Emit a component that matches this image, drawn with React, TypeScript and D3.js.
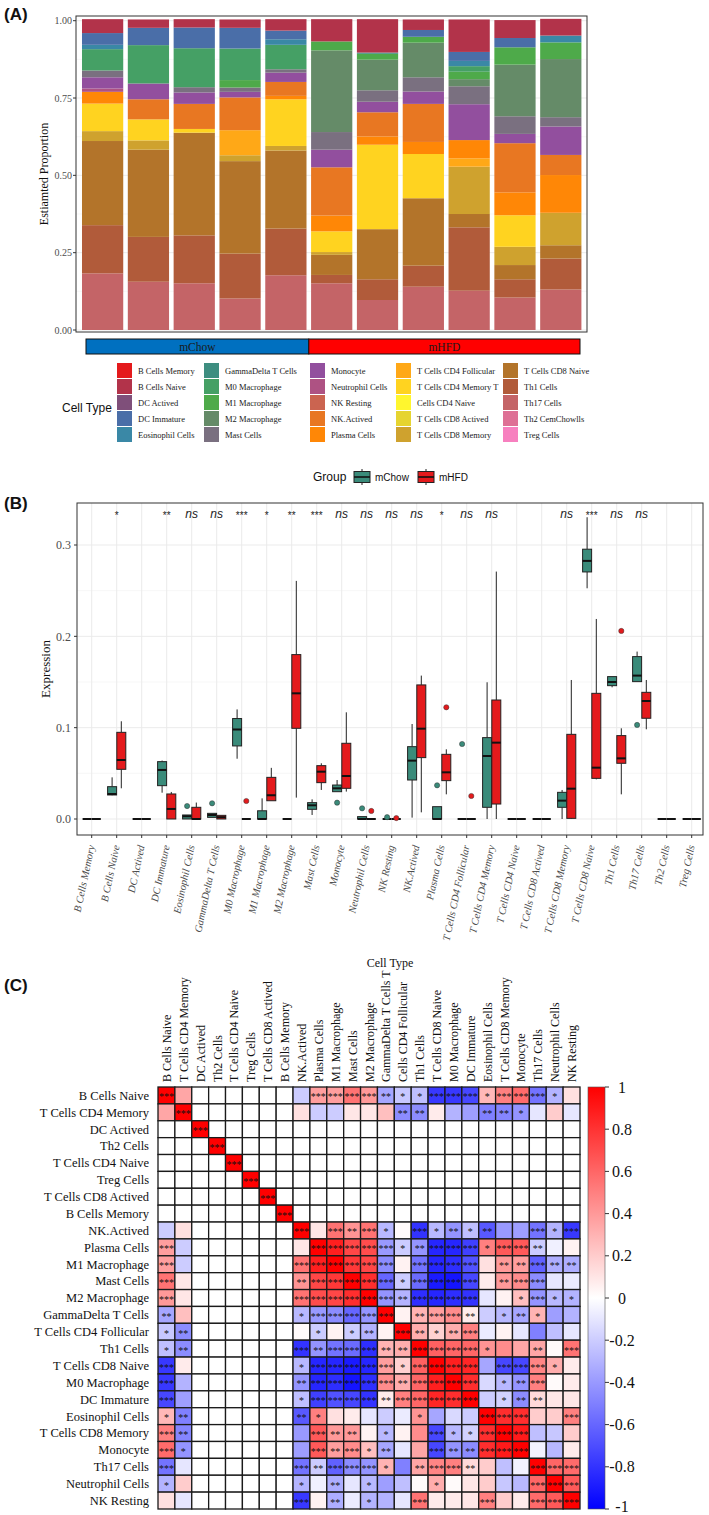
import React, { useEffect, useRef } from 'react';
import * as d3 from 'd3';

const SERIF = '"Liberation Serif", "Times New Roman", serif';
const SANS = '"Liberation Sans", Arial, sans-serif';

// ---------------- Panel A data ----------------
const sampleIds = ['S1', 'S2', 'S3', 'S4', 'S5', 'S6', 'S7', 'S8', 'S9', 'S10', 'S11'];
const groupNames = ['mChow', 'mHFD'];
const groupSampleCounts = [5, 6];
const groupBarColors = ['#0070C0', '#FF0000'];

const cellTypesA = [
  'B Cells Memory', 'B Cells Naive', 'DC Actived', 'DC Immature', 'Eosinophil Cells',
  'GammaDelta T Cells', 'M0 Macrophage', 'M1 Macrophage', 'M2 Macrophage', 'Mast Cells',
  'Monocyte', 'Neutrophil Cells', 'NK Resting', 'NK.Actived', 'Plasma Cells',
  'T Cells CD4 Follicular', 'T Cells CD4 Memory T', 'Cells CD4 Naive', 'T Cells CD8 Actived', 'T Cells CD8 Memory',
  'T Cells CD8 Naive', 'Th1 Cells', 'Th17 Cells', 'Th2 CemChowlls', 'Treg Cells',
];
const cellColorsA = [
  '#E41A1C', '#B2334A', '#7F4F7A', '#4A6EA8', '#3A88A6',
  '#3E8E80', '#45A065', '#4EAA4A', '#658B68', '#7A7080',
  '#924F9E', '#AE5283', '#CB6450', '#E87722', '#FF8706',
  '#FFA817', '#FFD320', '#FFF62E', '#E6D430', '#CFA22E',
  '#B3742A', '#B15B3A', '#C46467', '#DE7095', '#F780BF',
];

const bCellsMemory = [0, 0, 0, 0, 0, 0, 0, 0, 0, 0, 0];
const bCellsNaive = [0.045, 0.027, 0.027, 0.027, 0.037, 0.072, 0.108, 0.034, 0.105, 0.058, 0.054];
const dcActived = [0, 0, 0, 0, 0, 0, 0, 0, 0, 0, 0];
const dcImmature = [0.038, 0.056, 0.067, 0.067, 0.028, 0, 0, 0.022, 0.029, 0.03, 0];
const eosinophilCells = [0.014, 0, 0, 0, 0.018, 0, 0, 0, 0.017, 0, 0.022];
const gammaDeltaT = [0, 0, 0, 0, 0, 0, 0.004, 0, 0, 0, 0];
const m0Macrophage = [0.069, 0.124, 0.126, 0.102, 0.079, 0, 0, 0, 0.018, 0, 0];
const m1Macrophage = [0, 0, 0, 0.024, 0, 0.029, 0.019, 0.019, 0.024, 0.056, 0.054];
const m2Macrophage = [0, 0, 0, 0, 0, 0.264, 0.099, 0.112, 0.023, 0.167, 0.188];
const mastCells = [0.022, 0, 0.017, 0.014, 0.011, 0.057, 0.037, 0.046, 0.058, 0.057, 0.03];
const monocyte = [0.036, 0.051, 0.037, 0.018, 0.03, 0.057, 0.034, 0.04, 0.116, 0.03, 0.092];
const neutrophilCells = [0.011, 0, 0, 0, 0, 0, 0, 0, 0, 0, 0];
const nkResting = [0, 0, 0, 0, 0, 0, 0, 0, 0, 0, 0];
const nkActived = [0, 0.065, 0.081, 0.106, 0.045, 0.156, 0.078, 0.123, 0, 0.159, 0.065];
const plasmaCells = [0.038, 0, 0, 0, 0.011, 0.051, 0.027, 0.039, 0.059, 0.074, 0.122];
const cd4Follicular = [0, 0, 0, 0.081, 0, 0, 0, 0, 0.027, 0, 0];
const cd4MemoryT = [0.089, 0.068, 0.012, 0, 0.151, 0.067, 0.273, 0.143, 0, 0.102, 0];
const cd4Naive = [0, 0, 0, 0, 0, 0, 0, 0, 0, 0, 0];
const cd8Actived = [0, 0, 0, 0, 0, 0, 0, 0, 0, 0, 0];
const cd8Memory = [0.032, 0.03, 0, 0.019, 0.015, 0.009, 0, 0, 0.153, 0.059, 0.105];
const cd8Naive = [0.272, 0.282, 0.332, 0.299, 0.252, 0.065, 0.162, 0.218, 0.043, 0.046, 0.043];
const th1Cells = [0.156, 0.145, 0.155, 0.145, 0.151, 0.027, 0.067, 0.068, 0.205, 0.059, 0.1];
const th17Cells = [0.183, 0.156, 0.151, 0.102, 0.177, 0.151, 0.097, 0.14, 0.127, 0.105, 0.131];
const th2Cells = [0, 0, 0, 0, 0, 0, 0, 0, 0, 0, 0];
const tregCells = [0, 0, 0, 0, 0, 0, 0, 0, 0, 0, 0];

const seriesA = [
  bCellsMemory, bCellsNaive, dcActived, dcImmature, eosinophilCells,
  gammaDeltaT, m0Macrophage, m1Macrophage, m2Macrophage, mastCells,
  monocyte, neutrophilCells, nkResting, nkActived, plasmaCells,
  cd4Follicular, cd4MemoryT, cd4Naive, cd8Actived, cd8Memory,
  cd8Naive, th1Cells, th17Cells, th2Cells, tregCells,
];
const yTicksA = [0, 0.25, 0.5, 0.75, 1];
const yTickLabelsA = ['0.00', '0.25', '0.50', '0.75', '1.00'];

// ---------------- Panel B data ----------------
const cellTypesB = [
  'B Cells Memory', 'B Cells Naive', 'DC Actived', 'DC Immature', 'Eosinophil Cells',
  'GammaDelta T Cells', 'M0 Macrophage', 'M1 Macrophage', 'M2 Macrophage', 'Mast Cells',
  'Monocyte', 'Neutrophil Cells', 'NK Resting', 'NK.Actived', 'Plasma Cells',
  'T Cells CD4 Follicular', 'T Cells CD4 Memory', 'T Cells CD4 Naive', 'T Cells CD8 Actived', 'T Cells CD8 Memory',
  'T Cells CD8 Naive', 'Th1 Cells', 'Th17 Cells', 'Th2 Cells', 'Treg Cells',
];
const sigLabels = [
  '', '*', '', '**', 'ns', 'ns', '***', '*', '**', '***',
  'ns', 'ns', 'ns', 'ns', '*', 'ns', 'ns', '', '', 'ns',
  '***', 'ns', 'ns', '', '',
];
// [lower whisker, q1, median, q3, upper whisker]
const chowStats = [
  [0, 0, 0, 0, 0], [0.026, 0.0263, 0.0274, 0.0354, 0.0456], [0, 0, 0, 0, 0], [0.0288, 0.0365, 0.0537, 0.0628, 0.064],
  [0, 0, 0.003, 0.0044, 0.0044], [0.0018, 0.0018, 0.0044, 0.0062, 0.0062], [0.066, 0.08, 0.098, 0.11, 0.12],
  [0, 0, 0, 0.009, 0.0226], [0, 0, 0, 0, 0], [0.0044, 0.0106, 0.015, 0.0179, 0.0215],
  [0.0299, 0.0299, 0.0336, 0.0372, 0.0427], [0, 0, 0, 0.0026, 0.0026], [0, 0, 0, 0, 0],
  [0.0015, 0.0427, 0.0639, 0.0792, 0.104], [0, 0, 0, 0.0135, 0.0135], [0, 0, 0, 0, 0],
  [0, 0.0128, 0.069, 0.0891, 0.1497], [0, 0, 0, 0, 0], [0, 0, 0, 0, 0],
  [0, 0.0128, 0.0201, 0.0292, 0.0318], [0.2526, 0.2705, 0.2826, 0.2954, 0.3304],
  [0.1442, 0.146, 0.15, 0.1559, 0.1559], [0.1504, 0.1504, 0.157, 0.1778, 0.1833],
  [0, 0, 0, 0, 0], [0, 0, 0, 0, 0],
];
const hfdStats = [
  [0, 0, 0, 0, 0], [0.0336, 0.0544, 0.0646, 0.0949, 0.107], [0, 0, 0, 0, 0], [0, 0, 0.011, 0.0274, 0.0296],
  [0, 0, 0, 0.0128, 0.018], [0, 0, 0.002, 0.004, 0.004], [0, 0, 0, 0, 0],
  [0.02, 0.02, 0.026, 0.0456, 0.056], [0.0234, 0.0993, 0.1376, 0.18, 0.2607], [0.0318, 0.0398, 0.0518, 0.0584, 0.061],
  [0.03, 0.0336, 0.0471, 0.0829, 0.1168], [0, 0, 0, 0, 0], [0, 0, 0, 0, 0],
  [0.0073, 0.0672, 0.0989, 0.1468, 0.157], [0.027, 0.042, 0.0511, 0.0708, 0.0763], [0, 0, 0, 0, 0],
  [0, 0.0164, 0.0836, 0.1303, 0.2709], [0, 0, 0, 0, 0], [0, 0, 0, 0, 0],
  [0, 0.0007, 0.0332, 0.0927, 0.1522], [0.0434, 0.0445, 0.0562, 0.1376, 0.219],
  [0.027, 0.061, 0.0664, 0.0913, 0.0993], [0.0982, 0.1103, 0.1292, 0.1387, 0.1522],
  [0, 0, 0, 0, 0], [0, 0, 0, 0, 0],
];
const chowOutliers = [[4, 0.0142], [5, 0.0172], [10, 0.0179], [11, 0.0117], [12, 0.002], [14, 0.0369], [15, 0.0821], [22, 0.103]];
const hfdOutliers = [[6, 0.0197], [11, 0.0088], [12, 0.001], [14, 0.1223], [15, 0.0252], [21, 0.2059]];
const groupColorsB = ['#3A8B7A', '#E41A1C'];
const yTicksB = [0, 0.1, 0.2, 0.3];
const yMinorB = [0.05, 0.15, 0.25];

// ---------------- Panel C data ----------------
const corrRowLabels = [
  'B Cells Naive', 'T Cells CD4 Memory', 'DC Actived', 'Th2 Cells', 'T Cells CD4 Naive', 'Treg Cells',
  'T Cells CD8 Actived', 'B Cells Memory', 'NK.Actived', 'Plasma Cells', 'M1 Macrophage', 'Mast Cells',
  'M2 Macrophage', 'GammaDelta T Cells', 'T Cells CD4 Follicular', 'Th1 Cells', 'T Cells CD8 Naive',
  'M0 Macrophage', 'DC Immature', 'Eosinophil Cells', 'T Cells CD8 Memory', 'Monocyte', 'Th17 Cells',
  'Neutrophil Cells', 'NK Resting',
];
const corrColLabels = [
  'B Cells Naive', 'T Cells CD4 Memory', 'DC Actived', 'Th2 Cells', 'T Cells CD4 Naive', 'Treg Cells',
  'T Cells CD8 Actived', 'B Cells Memory', 'NK.Actived', 'Plasma Cells', 'M1  Macrophage', 'Mast Cells',
  'M2 Macrophage', 'GammaDelta T Cells T', 'Cells CD4 Follicular', 'Th1 Cells', 'T Cells CD8 Naive',
  'M0 Macrophage', 'DC Immature', 'Eosinophil Cells', 'T Cells CD8 Memory', 'Monocyte', 'Th17 Cells',
  'Neutrophil Cells', 'NK Resting',
];
// upper-triangle pairs [row, col, r, significance]; matrix is symmetric, diagonal = 1 ***
const corrPairs: [number, number, number, string][] = [
  [0, 1, 0.35, ''], [0, 8, -0.2, ''], [0, 9, 0.38, '***'], [0, 10, 0.38, '***'], [0, 11, 0.55, '***'], [0, 12, 0.4, '***'],
  [0, 13, -0.35, '**'], [0, 14, -0.22, '*'], [0, 15, -0.25, '*'], [0, 16, -0.78, '***'], [0, 17, -0.78, '***'],
  [0, 18, -0.72, '***'], [0, 19, 0.28, '*'], [0, 20, 0.5, '***'], [0, 21, 0.58, '***'], [0, 22, -0.55, '***'],
  [0, 23, -0.3, '*'], [0, 24, 0.12, ''],
  [1, 8, 0.12, ''], [1, 9, -0.2, ''], [1, 10, -0.2, ''], [1, 11, 0.1, ''], [1, 12, 0.1, ''], [1, 13, 0.25, ''],
  [1, 14, -0.45, '**'], [1, 15, -0.45, '**'], [1, 16, 0.08, ''], [1, 17, -0.3, ''], [1, 18, -0.38, ''],
  [1, 19, -0.5, '**'], [1, 20, -0.48, '**'], [1, 21, -0.42, '*'], [1, 22, -0.1, ''], [1, 23, 0.2, ''], [1, 24, -0.1, ''],
  [8, 9, 0.1, ''], [8, 10, 0.55, '***'], [8, 11, 0.42, '**'], [8, 12, 0.55, '***'], [8, 13, -0.28, '*'], [8, 14, 0.02, ''],
  [8, 15, -0.8, '***'], [8, 16, -0.28, '*'], [8, 17, -0.42, '**'], [8, 18, -0.25, '*'], [8, 19, -0.65, '**'],
  [8, 20, -0.4, ''], [8, 21, -0.38, ''], [8, 22, -0.55, '***'], [8, 23, -0.3, '*'], [8, 24, -0.78, '***'],
  [9, 10, 0.88, '***'], [9, 11, 0.72, '***'], [9, 12, 0.7, '***'], [9, 13, -0.4, '***'], [9, 14, -0.2, '*'],
  [9, 15, -0.42, '**'], [9, 16, -0.85, '***'], [9, 17, -0.85, '***'], [9, 18, -0.75, '***'], [9, 19, 0.5, '*'],
  [9, 20, 0.65, '***'], [9, 21, 0.65, '***'], [9, 22, -0.2, '**'], [9, 23, -0.06, ''], [9, 24, 0.05, ''],
  [10, 11, 0.78, '***'], [10, 12, 0.72, '***'], [10, 13, -0.45, '***'], [10, 14, 0.05, ''], [10, 15, -0.55, '***'],
  [10, 16, -0.85, '***'], [10, 17, -0.82, '***'], [10, 18, -0.68, '***'], [10, 19, 0.12, ''], [10, 20, 0.4, '**'],
  [10, 21, 0.38, '**'], [10, 22, -0.62, '***'], [10, 23, -0.32, '**'], [10, 24, -0.32, '**'],
  [11, 12, 0.82, '***'], [11, 13, -0.6, '***'], [11, 14, -0.2, '*'], [11, 15, -0.58, '***'], [11, 16, -0.9, '***'],
  [11, 17, -0.92, '***'], [11, 18, -0.72, '***'], [11, 19, 0.08, ''], [11, 20, 0.4, '**'], [11, 21, 0.45, '***'],
  [11, 22, -0.45, '***'], [11, 23, -0.1, ''], [11, 24, -0.08, ''],
  [12, 13, -0.42, '***'], [12, 14, -0.3, '**'], [12, 15, -0.82, '***'], [12, 16, -0.85, '***'], [12, 17, -0.82, '***'],
  [12, 18, -0.8, '***'], [12, 19, -0.1, ''], [12, 20, 0.05, ''], [12, 21, 0.25, '*'], [12, 22, -0.42, '***'],
  [12, 23, -0.28, '*'], [12, 24, -0.3, '*'],
  [13, 14, 0.05, ''], [13, 15, 0.3, '**'], [13, 16, 0.38, '***'], [13, 17, 0.45, '***'], [13, 18, 0.08, '**'],
  [13, 19, -0.2, ''], [13, 20, -0.28, '*'], [13, 21, -0.35, '**'], [13, 22, 0.3, '*'], [13, 23, -0.38, ''], [13, 24, -0.3, ''],
  [14, 15, 0.32, '**'], [14, 16, 0.18, '*'], [14, 17, 0.32, '**'], [14, 18, 0.5, '***'], [14, 19, -0.08, ''],
  [14, 20, 0.05, ''], [14, 21, -0.1, ''], [14, 22, -0.5, ''], [14, 23, -0.25, ''], [14, 24, -0.1, ''],
  [15, 16, 0.62, '***'], [15, 17, 0.6, '***'], [15, 18, 0.6, '***'], [15, 19, 0.42, '*'], [15, 20, 0.45, ''],
  [15, 21, 0.35, ''], [15, 22, 0.35, '**'], [15, 23, 0.02, ''], [15, 24, 0.55, '***'],
  [16, 17, 0.88, '***'], [16, 18, 0.85, '***'], [16, 19, -0.35, ''], [16, 20, -0.72, '***'], [16, 21, -0.72, '***'],
  [16, 22, 0.48, '***'], [16, 23, 0.32, '*'], [16, 24, 0.08, ''],
  [17, 18, 0.82, '***'], [17, 19, -0.15, ''], [17, 20, -0.28, '*'], [17, 21, -0.42, '**'], [17, 22, 0.5, '***'],
  [17, 23, 0.02, ''], [17, 24, 0.08, ''],
  [18, 19, -0.2, ''], [18, 20, -0.18, '*'], [18, 21, -0.45, '**'], [18, 22, 0.15, '**'], [18, 23, 0.1, ''], [18, 24, 0.1, ''],
  [19, 20, 0.82, '***'], [19, 21, 0.82, '***'], [19, 22, 0.2, ''], [19, 23, 0.2, ''], [19, 24, 0.5, '***'],
  [20, 21, 0.9, '***'], [20, 22, -0.25, ''], [20, 23, -0.22, ''], [20, 24, 0.2, ''],
  [21, 22, -0.05, ''], [21, 23, -0.28, ''], [21, 24, 0.08, ''],
  [22, 23, 0.6, '***'], [22, 24, 0.58, '***'],
  [23, 24, 0.65, '***'],
];
const colorbarTicks = [1, 0.8, 0.6, 0.4, 0.2, 0, -0.2, -0.4, -0.6, -0.8, -1];

type Sel = d3.Selection<SVGSVGElement, unknown, null, undefined>;

function panelLabel(svg: Sel, text: string, y: number) {
  svg.append('text').attr('x', 4).attr('y', y).attr('font-family', SANS).attr('font-weight', 'bold')
    .attr('font-size', 17).attr('fill', '#111').text(text);
}

function drawA(svg: Sel) {
  panelLabel(svg, '(A)', 20);
  const g = svg.append('g');
  const fx0 = 76, fx1 = 587, fy0 = 16, fy1 = 332;
  const x = d3.scaleBand<string>().domain(sampleIds).range([79.7, 583.7]).paddingInner(0.1).paddingOuter(0.05);
  const y = d3.scaleLinear().domain([0, 1]).range([330, 20.7]);

  // grid
  const minor = [0.125, 0.375, 0.625, 0.875];
  minor.forEach((v) => g.append('line').attr('x1', fx0).attr('x2', fx1).attr('y1', y(v)).attr('y2', y(v)).attr('stroke', '#f2f2f2').attr('stroke-width', 0.6));
  yTicksA.forEach((v) => g.append('line').attr('x1', fx0).attr('x2', fx1).attr('y1', y(v)).attr('y2', y(v)).attr('stroke', '#ebebeb').attr('stroke-width', 1));

  const table = sampleIds.map((s, i) => {
    const row: Record<string, number | string> = { sample: s };
    cellTypesA.forEach((c, k) => { row[c] = seriesA[k][i]; });
    return row;
  });
  const keys = [...cellTypesA].reverse();
  const stacked = d3.stack<any>().keys(keys)(table as any);
  const color = d3.scaleOrdinal<string, string>().domain(cellTypesA).range(cellColorsA);
  stacked.forEach((layer) => {
    g.append('g').attr('fill', color(layer.key)).selectAll('rect').data(layer).join('rect')
      .attr('x', (d: any) => x(d.data.sample) as number)
      .attr('width', x.bandwidth())
      .attr('y', (d: any) => y(d[1]))
      .attr('height', (d: any) => Math.max(0, y(d[0]) - y(d[1])));
  });

  g.append('rect').attr('x', fx0).attr('y', fy0).attr('width', fx1 - fx0).attr('height', fy1 - fy0)
    .attr('fill', 'none').attr('stroke', '#333').attr('stroke-width', 1);

  yTicksA.forEach((v, i) => {
    g.append('line').attr('x1', fx0 - 3).attr('x2', fx0).attr('y1', y(v)).attr('y2', y(v)).attr('stroke', '#333');
    g.append('text').attr('x', fx0 - 4).attr('y', y(v)).attr('dy', '0.35em').attr('text-anchor', 'end')
      .attr('font-family', SERIF).attr('font-size', 10).attr('fill', '#4d4d4d').text(yTickLabelsA[i]);
  });
  g.append('text').attr('transform', `translate(48,${(fy0 + fy1) / 2}) rotate(-90)`).attr('text-anchor', 'middle')
    .attr('font-family', SERIF).attr('font-size', 12).attr('fill', '#111').text('Estiamted Proportion');

  // group bar
  const split = ((x(sampleIds[groupSampleCounts[0] - 1]) as number) + x.bandwidth() + (x(sampleIds[groupSampleCounts[0]]) as number)) / 2;
  const segs = [[86, split], [split, 580]];
  segs.forEach(([a, b], i) => {
    g.append('rect').attr('x', a).attr('y', 339).attr('width', b - a).attr('height', 15)
      .attr('fill', groupBarColors[i]).attr('stroke', '#111').attr('stroke-width', 1);
    g.append('text').attr('x', (a + b) / 2).attr('y', 350.5).attr('text-anchor', 'middle')
      .attr('font-family', SERIF).attr('font-size', 11.5).attr('fill', '#1a1a1a').text(groupNames[i]);
  });

  // legend
  g.append('text').attr('x', 62).attr('y', 412).attr('font-family', SANS).attr('font-size', 12).attr('fill', '#111').text('Cell Type');
  const colX = [117, 204, 310, 396, 503];
  cellTypesA.forEach((c, k) => {
    const col = Math.floor(k / 5), row = k % 5;
    const kx = colX[col], ky = 363 + row * 16;
    g.append('rect').attr('x', kx).attr('y', ky).attr('width', 15).attr('height', 15).attr('fill', color(c));
    g.append('text').attr('x', kx + 21).attr('y', ky + 8).attr('dy', '0.35em').attr('font-family', SERIF)
      .attr('font-size', 8.5).attr('fill', '#1a1a1a').text(c);
  });
}

function drawB(svg: Sel) {
  panelLabel(svg, '(B)', 509);
  const g = svg.append('g');
  const fx0 = 77, fx1 = 703, fy0 = 503, fy1 = 835;
  const x = d3.scaleLinear().domain([0, cellTypesB.length - 1]).range([91.7, 691.7]);
  const y = d3.scaleLinear().domain([0, 0.3]).range([819, 545]);

  // group legend
  const lg = g.append('g');
  lg.append('text').attr('x', 313).attr('y', 481).attr('font-family', SANS).attr('font-size', 12).attr('fill', '#111').text('Group');
  const keyX = [354, 418];
  groupNames.forEach((n, i) => {
    const kx = keyX[i];
    lg.append('line').attr('x1', kx + 8).attr('x2', kx + 8).attr('y1', 469).attr('y2', 485).attr('stroke', '#222');
    lg.append('rect').attr('x', kx).attr('y', 471.5).attr('width', 16).attr('height', 11).attr('fill', groupColorsB[i]).attr('stroke', '#222');
    lg.append('line').attr('x1', kx).attr('x2', kx + 16).attr('y1', 477).attr('y2', 477).attr('stroke', '#111').attr('stroke-width', 1.6);
    lg.append('text').attr('x', kx + 21).attr('y', 481).attr('font-family', SANS).attr('font-size', 10).attr('fill', '#111').text(n);
  });

  // grid
  yMinorB.forEach((v) => g.append('line').attr('x1', fx0).attr('x2', fx1).attr('y1', y(v)).attr('y2', y(v)).attr('stroke', '#f2f2f2').attr('stroke-width', 0.6));
  yTicksB.forEach((v) => g.append('line').attr('x1', fx0).attr('x2', fx1).attr('y1', y(v)).attr('y2', y(v)).attr('stroke', '#ebebeb').attr('stroke-width', 1));
  cellTypesB.forEach((_, i) => g.append('line').attr('x1', x(i)).attr('x2', x(i)).attr('y1', fy0).attr('y2', fy1).attr('stroke', '#ebebeb').attr('stroke-width', 1));

  const bw = 9, off = 4.6;
  const drawBoxes = (stats: number[][], outl: number[][], dx: number, fill: string) => {
    stats.forEach((s, i) => {
      const cx = x(i) + dx;
      const [lo, q1, med, q3, hi] = s;
      if (hi > q3) g.append('line').attr('x1', cx).attr('x2', cx).attr('y1', y(hi)).attr('y2', y(q3)).attr('stroke', '#222').attr('stroke-width', 1);
      if (lo < q1) g.append('line').attr('x1', cx).attr('x2', cx).attr('y1', y(q1)).attr('y2', y(lo)).attr('stroke', '#222').attr('stroke-width', 1);
      g.append('rect').attr('x', cx - bw / 2).attr('y', y(q3)).attr('width', bw).attr('height', Math.max(0, y(q1) - y(q3)))
        .attr('fill', fill).attr('stroke', '#222').attr('stroke-width', 1);
      g.append('line').attr('x1', cx - bw / 2).attr('x2', cx + bw / 2).attr('y1', y(med)).attr('y2', y(med)).attr('stroke', '#111').attr('stroke-width', 2);
    });
    outl.forEach(([i, v]) => {
      g.append('circle').attr('cx', x(i) + dx).attr('cy', y(v)).attr('r', 2.6).attr('fill', fill).attr('stroke', '#333').attr('stroke-width', 0.5);
    });
  };
  drawBoxes(chowStats, chowOutliers, -off, groupColorsB[0]);
  drawBoxes(hfdStats, hfdOutliers, off, groupColorsB[1]);

  // significance
  sigLabels.forEach((s, i) => {
    if (!s) return;
    const isNs = s === 'ns';
    g.append('text').attr('x', x(i)).attr('y', isNs ? 518 : 519).attr('text-anchor', 'middle')
      .attr('font-family', SANS).attr('font-style', isNs ? 'italic' : 'normal')
      .attr('font-size', isNs ? 12 : 10).attr('fill', '#222').text(s);
  });

  g.append('rect').attr('x', fx0).attr('y', fy0).attr('width', fx1 - fx0).attr('height', fy1 - fy0)
    .attr('fill', 'none').attr('stroke', '#333').attr('stroke-width', 1);

  yTicksB.forEach((v) => {
    g.append('line').attr('x1', fx0 - 3).attr('x2', fx0).attr('y1', y(v)).attr('y2', y(v)).attr('stroke', '#333');
    g.append('text').attr('x', fx0 - 6).attr('y', y(v)).attr('dy', '0.35em').attr('text-anchor', 'end')
      .attr('font-family', SERIF).attr('font-size', 12).attr('fill', '#4d4d4d').text(d3.format('.1f')(v));
  });
  g.append('text').attr('transform', `translate(50,${(fy0 + fy1) / 2}) rotate(-90)`).attr('text-anchor', 'middle')
    .attr('font-family', SERIF).attr('font-size', 13).attr('fill', '#111').text('Expression');

  cellTypesB.forEach((c, i) => {
    g.append('line').attr('x1', x(i)).attr('x2', x(i)).attr('y1', fy1).attr('y2', fy1 + 3).attr('stroke', '#333');
    g.append('text').attr('transform', `translate(${x(i) + 3},${fy1 + 11}) rotate(-78)`).attr('text-anchor', 'end')
      .attr('font-family', SERIF).attr('font-style', 'italic').attr('font-size', 10.5).attr('fill', '#4d4d4d').text(c);
  });
  g.append('text').attr('x', (fx0 + fx1) / 2).attr('y', 967).attr('text-anchor', 'middle')
    .attr('font-family', SERIF).attr('font-size', 12).attr('fill', '#111').text('Cell Type');
}

function drawC(svg: Sel) {
  panelLabel(svg, '(C)', 991);
  const g = svg.append('g');
  const n = corrRowLabels.length;
  const idx = d3.range(n).map(String);
  const x = d3.scaleBand<string>().domain(idx).range([158, 580]);
  const y = d3.scaleBand<string>().domain(idx).range([1087, 1509]);
  const bw = x.bandwidth();

  // build symmetric matrix from pairs
  const vals: number[][] = d3.range(n).map(() => d3.range(n).map(() => 0));
  const sig: string[][] = d3.range(n).map(() => d3.range(n).map(() => ''));
  d3.range(n).forEach((i) => { vals[i][i] = 1; sig[i][i] = '***'; });
  corrPairs.forEach(([i, j, r, s]) => { vals[i][j] = r; vals[j][i] = r; sig[i][j] = s; sig[j][i] = s; });

  const heat = (r: number) => (r >= 0 ? d3.interpolateRgb('#FFFFFF', '#FF0000')(r) : d3.interpolateRgb('#FFFFFF', '#0000FF')(-r));

  const cells: { i: number; j: number }[] = [];
  d3.range(n).forEach((i) => d3.range(n).forEach((j) => cells.push({ i, j })));
  g.selectAll('rect.cell').data(cells).join('rect').attr('class', 'cell')
    .attr('x', (d) => x(String(d.j)) as number).attr('y', (d) => y(String(d.i)) as number)
    .attr('width', bw).attr('height', bw).attr('fill', (d) => heat(vals[d.i][d.j]))
    .attr('stroke', '#1a1a1a').attr('stroke-width', 1.3);
  g.selectAll('text.sig').data(cells.filter((d) => sig[d.i][d.j])).join('text').attr('class', 'sig')
    .attr('x', (d) => (x(String(d.j)) as number) + bw / 2).attr('y', (d) => (y(String(d.i)) as number) + bw / 2 + 5)
    .attr('text-anchor', 'middle').attr('font-family', SERIF).attr('font-size', 10).attr('fill', '#111')
    .text((d) => sig[d.i][d.j]);

  corrRowLabels.forEach((l, i) => {
    g.append('text').attr('x', 149).attr('y', (y(String(i)) as number) + bw / 2).attr('dy', '0.35em')
      .attr('text-anchor', 'end').attr('font-family', SERIF).attr('font-size', 12.5).attr('fill', '#111').text(l);
  });
  corrColLabels.forEach((l, j) => {
    g.append('text').attr('transform', `translate(${(x(String(j)) as number) + bw / 2 + 4.5},1082) rotate(-90)`)
      .attr('text-anchor', 'start').attr('font-family', SERIF).attr('font-size', 12).attr('fill', '#111').text(l);
  });

  // colorbar
  const cb = d3.scaleLinear().domain([-1, 1]).range([1509, 1087]);
  const defs = svg.append('defs');
  const grad = defs.append('linearGradient').attr('id', 'cbgrad').attr('x1', 0).attr('x2', 0).attr('y1', 1).attr('y2', 0);
  d3.range(-1, 1.0001, 0.1).forEach((v) => {
    grad.append('stop').attr('offset', `${((v + 1) / 2) * 100}%`).attr('stop-color', heat(v));
  });
  g.append('rect').attr('x', 588).attr('y', cb(1)).attr('width', 17).attr('height', cb(-1) - cb(1))
    .attr('fill', 'url(#cbgrad)').attr('stroke', '#555').attr('stroke-width', 0.6);
  colorbarTicks.forEach((v) => {
    g.append('line').attr('x1', 605).attr('x2', 609).attr('y1', cb(v)).attr('y2', cb(v)).attr('stroke', '#333');
    g.append('text').attr('x', 622).attr('y', v === -1 ? cb(v) - 3 : cb(v)).attr('dy', '0.35em').attr('text-anchor', 'middle')
      .attr('font-family', SERIF).attr('font-size', 16).attr('fill', '#111').text(String(v));
  });
}

export default function App() {
  const ref = useRef<SVGSVGElement>(null);
  useEffect(() => {
    if (!ref.current) return;
    const svg = d3.select(ref.current) as Sel;
    svg.selectAll('*').remove();
    drawA(svg);
    drawB(svg);
    drawC(svg);
  }, []);
  return (
    <svg ref={ref} width={709} height={1515}
      style={{ position: 'absolute', left: 0, top: 0, background: '#ffffff', display: 'block' }} />
  );
}
